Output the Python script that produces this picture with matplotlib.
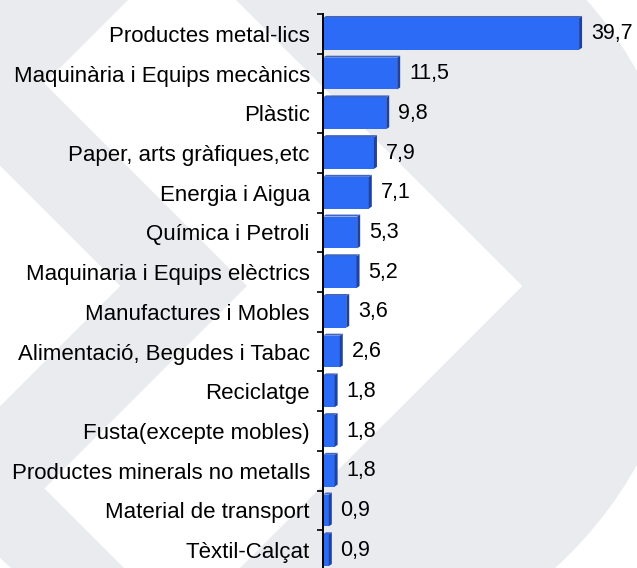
import numpy as np
import matplotlib
matplotlib.use("Agg")
import matplotlib.pyplot as plt
from matplotlib.patches import Circle, Polygon

plt.rcParams['font.family'] = ['Liberation Sans', 'DejaVu Sans']

categories = ["Productes metal-lics", "Maquinària i Equips mecànics", "Plàstic",
              "Paper, arts gràfiques,etc", "Energia i Aigua", "Química i Petroli",
              "Maquinaria i Equips elèctrics", "Manufactures i Mobles",
              "Alimentació, Begudes i Tabac", "Reciclatge", "Fusta(excepte mobles)",
              "Productes minerals no metalls", "Material de transport", "Tèxtil-Calçat"]
values = [39.7, 11.5, 9.8, 7.9, 7.1, 5.3, 5.2, 3.6, 2.6, 1.8, 1.8, 1.8, 0.9, 0.9]

W, H = 637, 568
gray = '#EAEBEE'
face = '#2B6BF5'
side = '#1D42A6'
top = '#3F66C4'

fig = plt.figure(figsize=(W / 100, H / 100), dpi=100)

# watermark behind the chart: grey disc with two white chevrons
bg = fig.add_axes([0, 0, 1, 1])
bg.set_xlim(0, W)
bg.set_ylim(H, 0)
bg.axis('off')
bg.add_patch(Circle((283, 268), 405, color=gray, lw=0))
arm = np.array([[44.5, -202.5], [182, -340], [522, 0], [384.5, 137.5]])
for shift in (0, -402):
    for flip in (1, -1):
        pts = arm.copy()
        pts[:, 0] += shift
        pts[:, 1] = 286 + flip * pts[:, 1]
        bg.add_patch(Polygon(pts, closed=True, color='white', lw=0))

# chart axes, left spine at x=323 px
x0, ytop, ybot = 323, 14, 570
ax = fig.add_axes([x0 / W, 1 - ybot / H, 1 - x0 / W, (ybot - ytop) / H])
ax.set_facecolor('none')
px = 6.45  # pixels per unit
ax.set_xlim(0, (W - x0) / px)
n = len(categories)
ax.set_ylim(n - 0.5, -0.5)

pos = np.arange(n)
bh = 0.8
ax.barh(pos, values, height=bh, color=face, edgecolor='none', zorder=3)

dx = 3 / px
dy = 2 / ((ybot - ytop) / n)
for i, v in zip(pos, values):
    yt, yb = i - bh / 2, i + bh / 2
    ax.add_patch(Polygon([[v, yt], [v + dx, yt - dy], [v + dx, yb - dy], [v, yb]],
                         closed=True, color=side, lw=0, zorder=4))
    ax.add_patch(Polygon([[0, yt], [dx, yt - dy], [v + dx, yt - dy], [v, yt]],
                         closed=True, color=top, lw=0, zorder=4))
    ax.annotate(f"{v:.1f}".replace('.', ','), xy=(v, i), xytext=(8.5, 0),
                textcoords='offset points', va='center', ha='left', fontsize=15.5)

for s in ('top', 'right', 'bottom'):
    ax.spines[s].set_visible(False)
ax.spines['left'].set_color('black')
ax.spines['left'].set_linewidth(1.4)
ax.spines['left'].set_zorder(5)

ax.set_xticks([])
ax.set_yticks(pos)
ax.set_yticklabels(categories, fontsize=16)
ax.set_yticks(np.arange(-0.5, n, 1), minor=True)
ax.tick_params(axis='y', which='major', length=0, pad=9.5)
ax.tick_params(axis='y', which='minor', length=4.5, width=1.2, color='black', direction='out')

fig.savefig("out.png", dpi=100, facecolor='white')
